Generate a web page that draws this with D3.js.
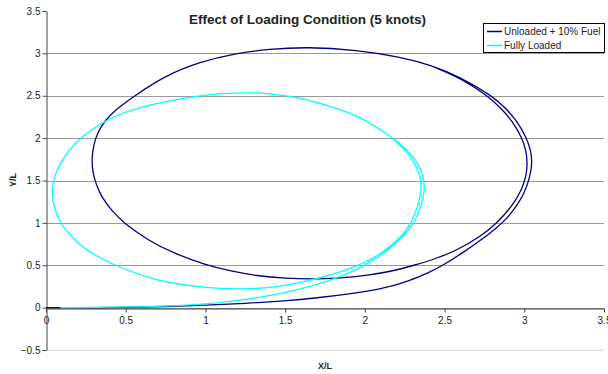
<!DOCTYPE html>
<html>
<head>
<meta charset="utf-8">
<script src="https://cdn.jsdelivr.net/npm/d3@7"></script>
<style>
body { margin: 0; background: #fff; }
text { font-family: Arial, "Liberation Sans", sans-serif; fill: #222; }
</style>
</head>
<body>
<svg id="chart"></svg>
<script>
// data
const chartTitle = "Effect of Loading Condition (5 knots)";
const seriesNames = ["Unloaded + 10% Fuel", "Fully Loaded"];
const seriesColors = ["#000080", "#00ffff"];
const xTicks = [0, 0.5, 1, 1.5, 2, 2.5, 3, 3.5];
const yTicks = [-0.5, 0, 0.5, 1, 1.5, 2, 2.5, 3, 3.5];

const unloaded = [
    [0, 0], [0.25, 0], [0.5, 0.003], [0.75, 0.012], [1.0, 0.027], [1.25, 0.05], [1.5, 0.08],
    [1.7, 0.115], [1.9, 0.16], [2.1, 0.22], [2.25, 0.295], [2.4, 0.41], [2.5, 0.51],
    [2.62, 0.655], [2.73, 0.8], [2.82, 0.93], [2.89, 1.05], [2.95, 1.19], [3.0, 1.35],
    [3.033, 1.52], [3.05, 1.7], [3.042, 1.85], [3.015, 2.0], [2.952, 2.21], [2.88, 2.36],
    [2.797, 2.5], [2.6, 2.72], [2.42, 2.86], [2.22, 2.96], [1.95, 3.04], [1.635, 3.077],
    [1.4, 3.05], [1.185, 3.0], [0.966, 2.9], [0.75, 2.74], [0.548, 2.49], [0.44, 2.34],
    [0.37, 2.21], [0.325, 2.07], [0.298, 1.92], [0.287, 1.76], [0.292, 1.6], [0.315, 1.45],
    [0.35, 1.3], [0.41, 1.15], [0.485, 1.0], [0.645, 0.79], [0.79, 0.65], [1.005, 0.5],
    [1.16, 0.43], [1.32, 0.375], [1.5, 0.345], [1.7, 0.334], [1.95, 0.36], [2.15, 0.42],
    [2.31, 0.5], [2.45, 0.58], [2.576, 0.676], [2.72, 0.83], [2.83, 1.0], [2.925, 1.2],
    [2.983, 1.385], [3.012, 1.55], [3.02, 1.7], [3.012, 1.85], [2.987, 2.0], [2.922, 2.21],
    [2.85, 2.36], [2.77, 2.5], [2.6, 2.71], [2.42, 2.85]
];

const fullyLoaded = [
    [0.09, 0], [0.3, 0.002], [0.55, 0.008], [0.8, 0.02], [1.0, 0.04], [1.22, 0.085],
    [1.42, 0.145], [1.59, 0.215], [1.75, 0.3], [1.88, 0.39], [1.99, 0.49], [2.08, 0.59],
    [2.17, 0.72], [2.25, 0.86], [2.31, 1.0], [2.355, 1.2], [2.377, 1.385], [2.368, 1.55],
    [2.33, 1.72], [2.262, 1.87], [2.18, 2.0], [2.01, 2.21], [1.865, 2.33], [1.6, 2.48],
    [1.4, 2.53], [1.217, 2.54], [0.966, 2.51], [0.652, 2.4], [0.45, 2.28], [0.339, 2.17],
    [0.213, 2.0], [0.14, 1.85], [0.075, 1.66], [0.044, 1.5], [0.036, 1.35], [0.05, 1.18],
    [0.088, 1.0], [0.16, 0.83], [0.25, 0.676], [0.425, 0.5], [0.652, 0.342], [0.8, 0.283],
    [1.0, 0.235], [1.24, 0.212], [1.45, 0.245], [1.6, 0.3], [1.72, 0.35], [1.84, 0.415],
    [1.96, 0.5], [2.07, 0.6], [2.16, 0.72], [2.24, 0.86], [2.29, 1.0], [2.335, 1.2],
    [2.356, 1.385], [2.35, 1.55], [2.31, 1.72], [2.25, 1.87], [2.17, 2.0]
];

const series = [unloaded, fullyLoaded];

const config = {
    containerWidth: 608,
    containerHeight: 374,
    margin: {top: 11, right: 4, bottom: 24, left: 46}
};

const width = config.containerWidth - config.margin.left - config.margin.right;
const height = config.containerHeight - config.margin.top - config.margin.bottom;

const svg = d3.select("#chart")
    .attr("width", config.containerWidth)
    .attr("height", config.containerHeight);

const chart = svg.append("g")
    .attr("transform", `translate(${config.margin.left},${config.margin.top})`);

const xScale = d3.scaleLinear().domain([0, 3.5]).range([0, width]);
const yScale = d3.scaleLinear().domain([-0.5, 3.5]).range([height, 0]);

// gridlines
chart.append("g").selectAll("line")
    .data(yTicks.filter(d => d < 3.5))
    .join("line")
    .attr("x1", 0)
    .attr("x2", width)
    .attr("y1", d => Math.round(yScale(d)) + 0.5)
    .attr("y2", d => Math.round(yScale(d)) + 0.5)
    .attr("stroke", d => d === -0.5 ? "#dcdcdc" : "#999")
    .attr("stroke-width", 1);

// axes
const xAxis = d3.axisBottom(xScale).tickValues(xTicks).tickSize(4).tickSizeOuter(0).tickFormat(d3.format("~g"));
const yAxis = d3.axisLeft(yScale).tickValues(yTicks).tickSize(4).tickSizeOuter(0).tickFormat(d3.format("~g"));

const xAxisG = chart.append("g")
    .attr("transform", `translate(0,${Math.round(yScale(0)) + 0.5})`)
    .call(xAxis);

const yAxisG = chart.append("g")
    .attr("transform", "translate(0.5,0)")
    .call(yAxis);

[xAxisG, yAxisG].forEach(g => {
    g.select(".domain").attr("stroke", "#444");
    g.selectAll(".tick line").attr("stroke", "#444");
    g.selectAll(".tick text")
        .style("font-size", "10px")
        .style("font-family", "Arial, 'Liberation Sans', sans-serif")
        .attr("fill", "#222");
});
xAxisG.selectAll(".tick text").attr("y", 8);
yAxisG.selectAll(".tick text").attr("x", -6);

// series, smoothed like the spreadsheet's smooth lines
const line = d3.line()
    .x(d => xScale(d[0]))
    .y(d => yScale(d[1]))
    .curve(d3.curveBasis);

chart.append("g").selectAll("path")
    .data(series)
    .join("path")
    .attr("d", line)
    .attr("fill", "none")
    .attr("stroke", (d, i) => seriesColors[i])
    .attr("stroke-width", 1.3);

// title
svg.append("text")
    .attr("x", 307.5)
    .attr("y", 24)
    .attr("text-anchor", "middle")
    .style("font-size", "13.5px")
    .style("font-weight", "bold")
    .attr("fill", "#000")
    .text(chartTitle);

// axis titles
svg.append("text")
    .attr("x", 325)
    .attr("y", 369)
    .attr("text-anchor", "middle")
    .style("font-size", "9px")
    .style("font-weight", "bold")
    .attr("fill", "#000")
    .text("X/L");

svg.append("text")
    .attr("transform", "translate(16,180) rotate(-90)")
    .attr("text-anchor", "middle")
    .style("font-size", "9px")
    .style("font-weight", "bold")
    .attr("fill", "#000")
    .text("Y/L");

// legend
const legend = svg.append("g").attr("transform", "translate(483.5,23.5)");
legend.append("rect")
    .attr("width", 121)
    .attr("height", 29)
    .attr("fill", "#fff")
    .attr("stroke", "#000")
    .attr("stroke-width", 1);

const items = legend.selectAll(".item")
    .data(seriesNames)
    .join("g")
    .attr("class", "item")
    .attr("transform", (d, i) => `translate(0,${8 + i * 14})`);

items.append("line")
    .attr("x1", 3.5)
    .attr("x2", 18.5)
    .attr("stroke", (d, i) => seriesColors[i])
    .attr("stroke-width", 1.5);

items.append("text")
    .attr("x", 20.5)
    .attr("dy", "0.35em")
    .style("font-size", "10px")
    .attr("fill", "#000")
    .text(d => d);
</script>
</body>
</html>
